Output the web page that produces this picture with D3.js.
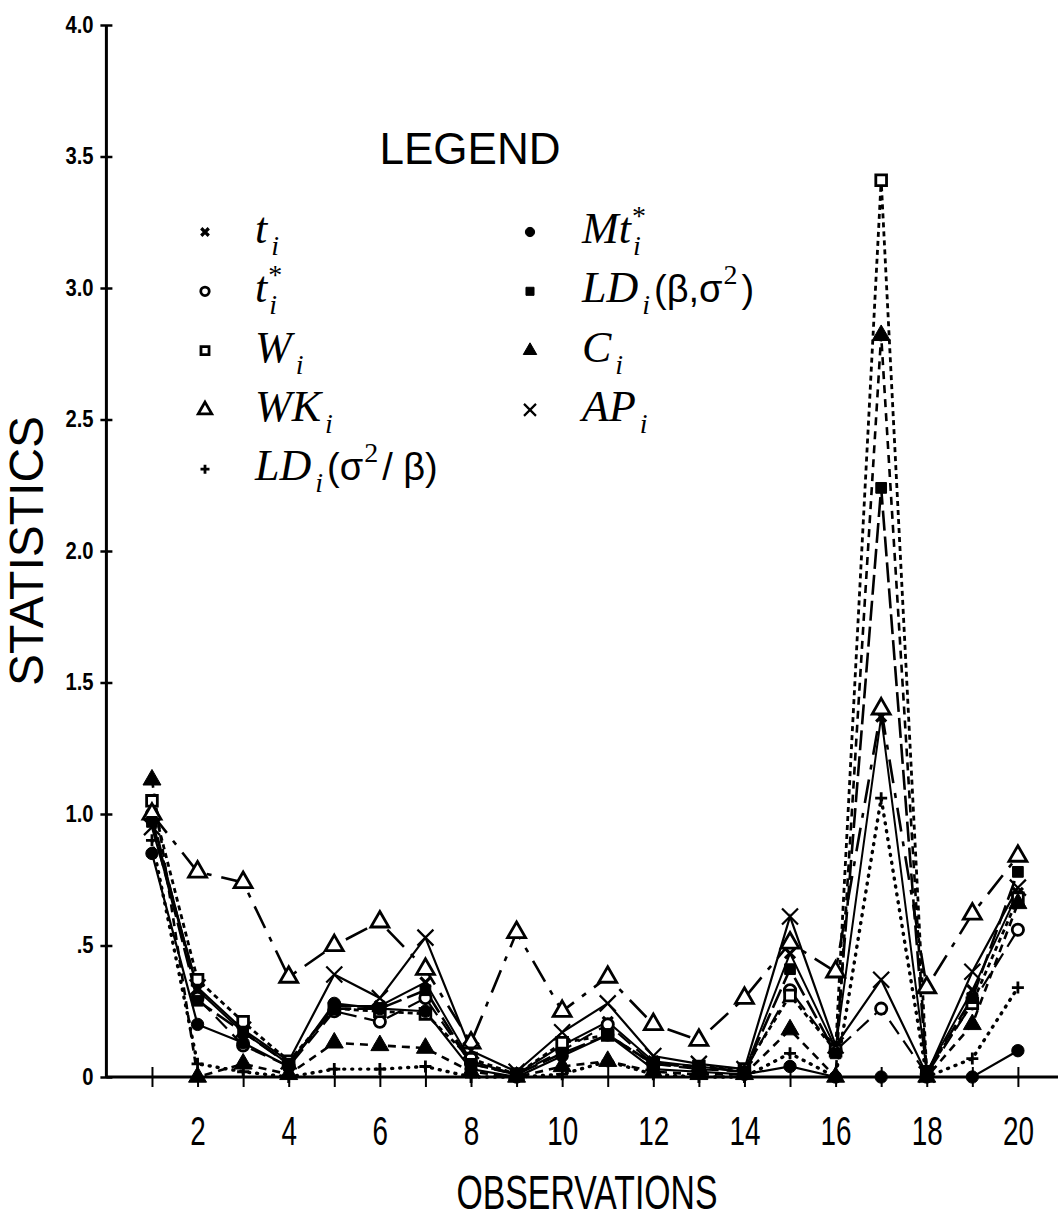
<!DOCTYPE html>
<html><head><meta charset="utf-8">
<script src="https://cdn.jsdelivr.net/npm/d3@7"></script>
<style>body{margin:0;background:#fff}</style>
</head><body><svg id="c" width="1058" height="1218"></svg>
<script>
// ---------------- data ----------------
const observations = d3.range(1, 21);
const t_i    = [0.98,0.33,0.17,0.05,0.27,0.27,0.36,0.06,0.01,0.12,0.21,0.06,0.04,0.02,0.47,0.11,1.37,0.02,0.33,0.70];
const tStar  = [1.00,0.30,0.12,0.04,0.25,0.21,0.30,0.05,0.01,0.10,0.20,0.05,0.03,0.02,0.33,0.10,0.26,0.01,0.28,0.56];
const W_i    = [1.05,0.37,0.21,0.06,0.26,0.25,0.24,0.07,0.01,0.13,0.16,0.05,0.04,0.03,0.31,0.10,3.41,0.02,0.28,0.68];
const WK_i   = [1.00,0.78,0.74,0.38,0.50,0.59,0.41,0.13,0.55,0.25,0.38,0.20,0.14,0.30,0.51,0.40,1.40,0.34,0.62,0.84];
const LD_s2b = [0.90,0.05,0.02,0.00,0.03,0.03,0.04,0.00,0.00,0.01,0.06,0.01,0.00,0.00,0.09,0.00,1.06,0.00,0.07,0.34];
const MtStar = [0.85,0.20,0.13,0.04,0.28,0.26,0.25,0.03,0.00,0.08,0.16,0.03,0.02,0.01,0.04,0.00,0.00,0.00,0.00,0.10];
const LD_bs2 = [0.97,0.29,0.17,0.05,0.26,0.26,0.33,0.05,0.01,0.09,0.16,0.05,0.04,0.02,0.41,0.09,2.24,0.02,0.30,0.78];
const C_i    = [1.13,0.00,0.05,0.01,0.13,0.12,0.11,0.02,0.00,0.04,0.06,0.02,0.01,0.01,0.18,0.00,2.82,0.00,0.20,0.66];
const AP_i   = [0.95,0.34,0.18,0.06,0.39,0.30,0.53,0.10,0.02,0.17,0.28,0.08,0.05,0.03,0.61,0.12,0.37,0.01,0.40,0.72];

const yTickValues = [0, 0.5, 1, 1.5, 2, 2.5, 3, 3.5, 4];
const yTickLabels = ["0", ".5", "1.0", "1.5", "2.0", "2.5", "3.0", "3.5", "4.0"];
const xTickValues = d3.range(1, 21);
const xTickLabels = xTickValues.map(d => d % 2 === 0 ? String(d) : "");

// ---------------- setup ----------------
const svg = d3.select("#c");
const x = d3.scaleLinear().domain([0, 20.88]).range([106.4, 1058]);
const y = d3.scaleLinear().domain([0, 4]).range([1077, 25]);
const sans = "'Liberation Sans',Arial,sans-serif";

// series styling
const series = [
  {key:"t",    v:t_i,    marker:"xs",     dash:null,          w:2},
  {key:"ts",   v:tStar,  marker:"circleO",dash:"16,8",        w:2.2},
  {key:"W",    v:W_i,    marker:"squareO",dash:"5,4",         w:2.8},
  {key:"WK",   v:WK_i,   marker:"triO",   dash:"24,10,5,10",  w:2.6},
  {key:"LDs",  v:LD_s2b, marker:"plus",   dash:"1,7",         w:3.4, cap:"round"},
  {key:"Mt",   v:MtStar, marker:"circleF",dash:null,          w:2.2},
  {key:"LDb",  v:LD_bs2, marker:"squareF",dash:"20,6",        w:2.6},
  {key:"C",    v:C_i,    marker:"triF",   dash:"8,6",         w:2.6},
  {key:"AP",   v:AP_i,   marker:"xl",     dash:null,          w:2.2}
];

function drawMarker(g, type, cx, cy, s) {
  const k = s || 1;
  if (type === "xs" || type === "xl") {
    const r = (type === "xs" ? 5 : 8) * k;
    g.append("path").attr("d", `M${cx-r},${cy-r}L${cx+r},${cy+r}M${cx-r},${cy+r}L${cx+r},${cy-r}`)
      .attr("stroke", "#000").attr("stroke-width", type === "xs" ? 3.2 : 2.2).attr("fill", "none");
  } else if (type === "plus") {
    const r = 6 * k;
    g.append("path").attr("d", `M${cx-r},${cy}L${cx+r},${cy}M${cx},${cy-r}L${cx},${cy+r}`)
      .attr("stroke", "#000").attr("stroke-width", 2.8).attr("fill", "none");
  } else {
    const map = {circleO:d3.symbolCircle, circleF:d3.symbolCircle, squareO:d3.symbolSquare,
                 squareF:d3.symbolSquare, triO:d3.symbolTriangle, triF:d3.symbolTriangle};
    const size = {circleO:100, circleF:120, squareO:115, squareF:115, triO:140, triF:140}[type] * k * k;
    const filled = type.endsWith("F");
    g.append("path").attr("d", d3.symbol().type(map[type]).size(size)())
      .attr("transform", `translate(${cx},${cy})`)
      .attr("fill", filled ? "#000" : "#fff")
      .attr("stroke", "#000").attr("stroke-width", filled ? 1 : 2.8);
  }
}

// ---------------- axes ----------------
const yAxis = d3.axisLeft(y).tickValues(yTickValues)
  .tickFormat((d, i) => yTickLabels[i]).tickSize(6).tickPadding(14);
const gy = svg.append("g").attr("transform", `translate(${x(0)},0)`).call(yAxis);
gy.select(".domain").attr("stroke-width", 3).attr("d", `M0,${y(4)}V${y(0)}`);
gy.selectAll(".tick line").attr("x1", -6).attr("x2", 6).attr("stroke-width", 2.5);
gy.selectAll(".tick text").attr("font-family", sans).attr("font-weight", "bold")
  .attr("font-size", 22).attr("fill", "#000").attr("x", -14).attr("transform", "scale(0.92,1.05)");

const xAxis = d3.axisBottom(x).tickValues(xTickValues)
  .tickFormat((d, i) => xTickLabels[i]).tickSize(9).tickPadding(30);
const gx = svg.append("g").attr("transform", `translate(0,${y(0)})`).call(xAxis);
gx.select(".domain").attr("stroke-width", 3).attr("d", `M${x(0)},0H1058`);
gx.selectAll(".tick line").attr("y1", -10).attr("y2", 10).attr("stroke-width", 2);
gx.selectAll(".tick text").attr("font-family", sans)
  .attr("font-size", 41).attr("fill", "#000").attr("transform", "scale(0.68,1)");

// axis titles
svg.append("text").attr("transform", "translate(43,551) rotate(-90)")
  .attr("text-anchor", "middle").attr("font-family", sans)
  .attr("font-size", 48).text("STATISTICS");
svg.append("text").attr("transform", "translate(587,1209) scale(0.69,1)")
  .attr("text-anchor", "middle")
  .attr("font-family", sans).attr("font-size", 49).text("OBSERVATIONS");

// ---------------- lines & markers ----------------
const line = d3.line().x((d, i) => x(observations[i])).y(d => y(d));
const gl = svg.append("g");
series.forEach(s => {
  gl.append("path").datum(s.v).attr("d", line).attr("fill", "none")
    .attr("stroke", "#000").attr("stroke-width", s.w)
    .attr("stroke-linecap", s.cap || "butt")
    .attr("stroke-dasharray", s.dash);
});
const gm = svg.append("g");
series.forEach(s => {
  s.v.forEach((v, i) => drawMarker(gm, s.marker, x(observations[i]), y(v)));
});

// ---------------- legend ----------------
svg.append("text").attr("x", 470).attr("y", 164).attr("text-anchor", "middle")
  .attr("font-family", sans).attr("font-size", 44).text("LEGEND");

const legendLabels = {
  t:   [["t","it"],["i","sub"]],
  ts:  [["t","it"],["*","sup"],["i","subback"]],
  W:   [["W","it"],["i","sub"]],
  WK:  [["WK","it"],["i","sub"]],
  LDs: [["LD","it"],["i","sub"],["(σ","up"],["2","sup"],["/ β)","up"]],
  Mt:  [["Mt","it"],["*","sup"],["i","subback"]],
  LDb: [["LD","it"],["i","sub"],["(β,σ","up"],["2","sup"],[")","up"]],
  C:   [["C","it"],["i","sub"]],
  AP:  [["AP","it"],["i","sub"]]
};
const leftKeys = ["t","ts","W","WK","LDs"], rightKeys = ["Mt","LDb","C","AP"];
const rowY = k => 243 + 59.3 * k;
function legendEntry(key, mx, tx, by) {
  const s = series.find(d => d.key === key);
  drawMarker(svg, s.marker, mx, by - 11, 0.75);
  const t = svg.append("text").attr("x", tx).attr("y", by)
    .attr("font-family", "'Liberation Serif','Times New Roman',serif").attr("font-size", 44);
  let off = 0;
  legendLabels[key].forEach(([txt, kind]) => {
    const sp = t.append("tspan").text(txt);
    let target = 0;
    if (kind === "it") { sp.attr("font-style", "italic"); }
    else if (kind === "sub" || kind === "subback") {
      sp.attr("font-style", "italic").attr("font-size", 28); target = 12;
      if (kind === "subback") sp.attr("dx", -13); else sp.attr("dx", 4);
    }
    else if (kind === "sup") { sp.attr("font-size", 28); target = -18; sp.attr("dx", 1); }
    else if (kind === "up") { sp.attr("font-family", sans).attr("font-size", 38); sp.attr("dx", 4); }
    sp.attr("dy", target - off); off = target;
  });
}
leftKeys.forEach((k, i) => legendEntry(k, 205, 255, rowY(i)));
rightKeys.forEach((k, i) => legendEntry(k, 530, 582, rowY(i)));
</script></body></html>
